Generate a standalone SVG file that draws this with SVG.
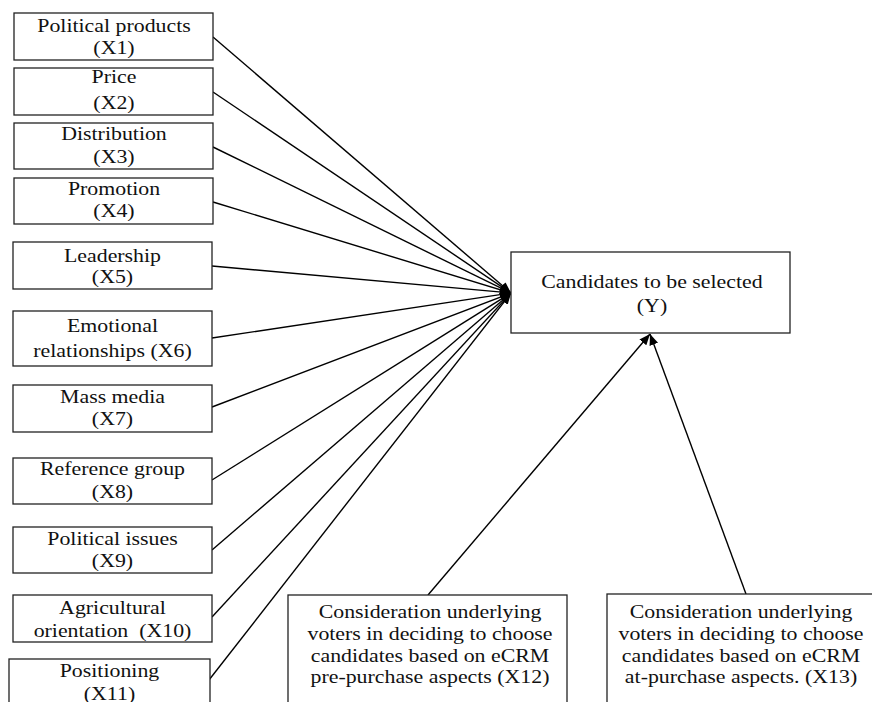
<svg xmlns="http://www.w3.org/2000/svg" width="872" height="702" viewBox="0 0 872 702">
<style>
  .box { fill: #ffffff; stroke: #222222; stroke-width: 1.3; }
  .lbl { font-family: "Liberation Serif", "Times New Roman", serif; font-size: 19px; fill: #111111; text-anchor: middle; }
  .edge { stroke: #000000; stroke-width: 1.4; fill: none; marker-end: url(#arrow); }
</style>
<defs>
  <marker id="arrow" markerUnits="userSpaceOnUse" markerWidth="12" markerHeight="10" refX="11" refY="4.5" orient="auto">
    <path d="M0,0 L11,4.5 L0,9 z" fill="#000000"/>
  </marker>
</defs>
<rect x="0" y="0" width="872" height="702" fill="#ffffff"/>

<g id="connectors">
  <line class="edge" x1="213" y1="37" x2="511" y2="293"/>
  <line class="edge" x1="213" y1="92" x2="511" y2="293"/>
  <line class="edge" x1="213" y1="147" x2="511" y2="293"/>
  <line class="edge" x1="213" y1="202" x2="511" y2="293"/>
  <line class="edge" x1="212" y1="266" x2="511" y2="293"/>
  <line class="edge" x1="212" y1="338" x2="511" y2="293"/>
  <line class="edge" x1="212" y1="407" x2="511" y2="293"/>
  <line class="edge" x1="212" y1="480" x2="511" y2="293"/>
  <line class="edge" x1="212" y1="550" x2="511" y2="293"/>
  <line class="edge" x1="212" y1="617" x2="511" y2="293"/>
  <line class="edge" x1="209" y1="680" x2="511" y2="293"/>
  <line class="edge" x1="428" y1="595" x2="650" y2="334"/>
  <line class="edge" x1="746" y1="594" x2="650" y2="334"/>
</g>

<g id="x1">
  <rect class="box" x="14" y="13" width="199" height="47"/>
  <text class="lbl" transform="translate(114 32) scale(1.15 1)">Political products</text>
  <text class="lbl" transform="translate(114 54) scale(1.15 1)">(X1)</text>
</g>
<g id="x2">
  <rect class="box" x="14" y="68" width="199" height="47"/>
  <text class="lbl" transform="translate(114 83) scale(1.15 1)">Price</text>
  <text class="lbl" transform="translate(114 109) scale(1.15 1)">(X2)</text>
</g>
<g id="x3">
  <rect class="box" x="14" y="123" width="199" height="46"/>
  <text class="lbl" transform="translate(114 140) scale(1.15 1)">Distribution</text>
  <text class="lbl" transform="translate(114 163) scale(1.15 1)">(X3)</text>
</g>
<g id="x4">
  <rect class="box" x="14" y="178" width="199" height="46"/>
  <text class="lbl" transform="translate(114 195) scale(1.15 1)">Promotion</text>
  <text class="lbl" transform="translate(114 217) scale(1.15 1)">(X4)</text>
</g>
<g id="x5">
  <rect class="box" x="13" y="242" width="199" height="47"/>
  <text class="lbl" transform="translate(112.5 262) scale(1.15 1)">Leadership</text>
  <text class="lbl" transform="translate(112.5 283) scale(1.15 1)">(X5)</text>
</g>
<g id="x6">
  <rect class="box" x="13" y="311" width="199" height="55"/>
  <text class="lbl" transform="translate(112.5 332) scale(1.15 1)">Emotional</text>
  <text class="lbl" transform="translate(112.5 357) scale(1.15 1)">relationships (X6)</text>
</g>
<g id="x7">
  <rect class="box" x="13" y="385" width="199" height="47"/>
  <text class="lbl" transform="translate(112.5 403) scale(1.15 1)">Mass media</text>
  <text class="lbl" transform="translate(112.5 425) scale(1.15 1)">(X7)</text>
</g>
<g id="x8">
  <rect class="box" x="13" y="458" width="199" height="46"/>
  <text class="lbl" transform="translate(112.5 475) scale(1.15 1)">Reference group</text>
  <text class="lbl" transform="translate(112.5 498) scale(1.15 1)">(X8)</text>
</g>
<g id="x9">
  <rect class="box" x="13" y="527" width="199" height="46"/>
  <text class="lbl" transform="translate(112.5 545) scale(1.15 1)">Political issues</text>
  <text class="lbl" transform="translate(112.5 567) scale(1.15 1)">(X9)</text>
</g>
<g id="x10">
  <rect class="box" x="13" y="595" width="199" height="47"/>
  <text class="lbl" transform="translate(112.5 614) scale(1.15 1)">Agricultural</text>
  <text class="lbl" transform="translate(112.5 637) scale(1.15 1)" xml:space="preserve">orientation  (X10)</text>
</g>
<g id="x11">
  <rect class="box" x="9" y="659" width="201" height="60"/>
  <text class="lbl" transform="translate(109.5 677) scale(1.15 1)">Positioning</text>
  <text class="lbl" transform="translate(109.5 700) scale(1.15 1)">(X11)</text>
</g>
<g id="y">
  <rect class="box" x="511" y="252" width="279" height="81"/>
  <text class="lbl" transform="translate(652 288) scale(1.15 1)">Candidates to be selected</text>
  <text class="lbl" transform="translate(652 312) scale(1.15 1)">(Y)</text>
</g>
<g id="x12">
  <rect class="box" x="288" y="595" width="279" height="130"/>
  <text class="lbl" transform="translate(430 618) scale(1.15 1)">Consideration underlying</text>
  <text class="lbl" transform="translate(430 640) scale(1.15 1)">voters in deciding to choose</text>
  <text class="lbl" transform="translate(430 662) scale(1.15 1)">candidates based on eCRM</text>
  <text class="lbl" transform="translate(430 683) scale(1.15 1)">pre-purchase aspects (X12)</text>
</g>
<g id="x13">
  <rect class="box" x="607" y="594" width="280" height="130"/>
  <text class="lbl" transform="translate(741 618) scale(1.15 1)">Consideration underlying</text>
  <text class="lbl" transform="translate(741 640) scale(1.15 1)">voters in deciding to choose</text>
  <text class="lbl" transform="translate(741 662) scale(1.15 1)">candidates based on eCRM</text>
  <text class="lbl" transform="translate(741 683) scale(1.15 1)">at-purchase aspects. (X13)</text>
</g>
</svg>
